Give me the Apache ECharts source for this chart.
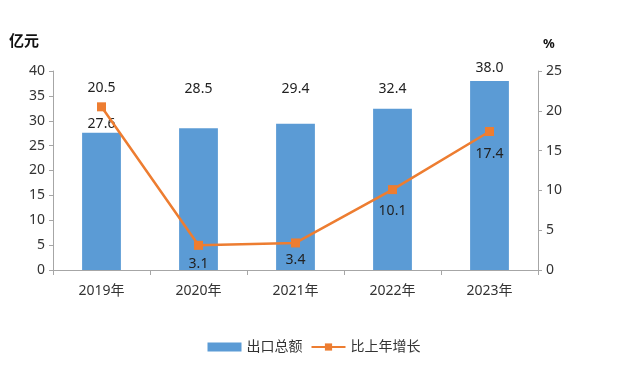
<!DOCTYPE html>
<html><head><meta charset="utf-8">
<script src="https://cdn.jsdelivr.net/npm/echarts@6/dist/echarts.min.js"></script>
<style>html,body{margin:0;padding:0;background:#fff}#c{width:628px;height:367px}</style>
</head><body><div id="c"></div>
<script>
var categories = ['2019年','2020年','2021年','2022年','2023年'];
var exportTotal = [27.6, 28.5, 29.4, 32.4, 38.0];
var growthRate = [20.5, 3.1, 3.4, 10.1, 17.4];
var leftTicks = [0, 40, 5];
var rightTicks = [0, 25, 5];
// label layout (pixel offsets), separate from data
var barLabelOffset = [[0, 4], [0, -26], [0, -22], [0, -7], [0, 0]];
var lineLabelPos = ['top', 'bottom', 'bottom', 'bottom', 'bottom'];
var lineLabelOffset = [[0, 0], [0, 0], [0, -1], [0, 3], [0, 4]];

var font = "'Noto Sans','Noto Sans CJK SC',sans-serif";
var chart = echarts.init(document.getElementById('c'), null, {renderer: 'canvas'});
var axisLine = {show: true, lineStyle: {color: '#a6a6a6'}};
chart.setOption({
  animation: false,
  textStyle: {fontFamily: font},
  grid: {left: 53, right: 90, top: 71, bottom: 97},
  legend: {
    bottom: 8, left: 'center', itemGap: 8, itemWidth: 34, itemHeight: 9,
    textStyle: {fontSize: 14, color: '#333', fontFamily: font},
    data: [
      {name: '出口总额', icon: 'rect'},
      {name: '比上年增长'}
    ]
  },
  xAxis: {
    type: 'category', data: categories,
    axisLine: axisLine,
    axisTick: {show: true, length: 5, lineStyle: {color: '#a6a6a6'}},
    axisLabel: {fontSize: 14, color: '#333', margin: 14}
  },
  yAxis: [
    {
      type: 'value', min: leftTicks[0], max: leftTicks[1], interval: leftTicks[2],
      name: '亿元', nameLocation: 'end', nameGap: 22,
      nameTextStyle: {fontSize: 15, fontWeight: 'bold', color: '#111', align: 'right', padding: [0, 14, 0, 0]},
      axisLine: axisLine,
      axisTick: {show: true, length: 4, lineStyle: {color: '#a6a6a6'}},
      axisLabel: {fontSize: 14, color: '#333', margin: 8},
      splitLine: {show: false}
    },
    {
      type: 'value', min: rightTicks[0], max: rightTicks[1], interval: rightTicks[2],
      name: '%', nameLocation: 'end', nameGap: 20,
      nameTextStyle: {fontSize: 13, fontWeight: 'bold', color: '#111', align: 'left', padding: [0, 0, 0, 5]},
      axisLine: axisLine,
      axisTick: {show: true, length: 4, lineStyle: {color: '#a6a6a6'}},
      axisLabel: {fontSize: 14, color: '#333', margin: 8},
      splitLine: {show: false}
    }
  ],
  series: [
    {
      name: '出口总额', type: 'bar', yAxisIndex: 0, barWidth: '40%',
      itemStyle: {color: '#5B9BD5'},
      data: exportTotal.map(function (v, i) {
        return {value: v, label: {offset: barLabelOffset[i]}};
      }),
      label: {
        show: true, position: 'top', distance: 6, fontSize: 14, color: '#222',
        formatter: function (p) { return p.value.toFixed(1); }
      }
    },
    {
      name: '比上年增长', type: 'line', yAxisIndex: 1,
      symbol: 'rect', symbolSize: 9,
      itemStyle: {color: '#ED7D31'},
      lineStyle: {color: '#ED7D31', width: 2.5},
      data: growthRate.map(function (v, i) {
        return {value: v, label: {position: lineLabelPos[i], offset: lineLabelOffset[i]}};
      }),
      label: {
        show: true, fontSize: 14, color: '#222', distance: 7,
        formatter: function (p) { return p.value.toFixed(1); }
      }
    }
  ]
});
</script></body></html>
